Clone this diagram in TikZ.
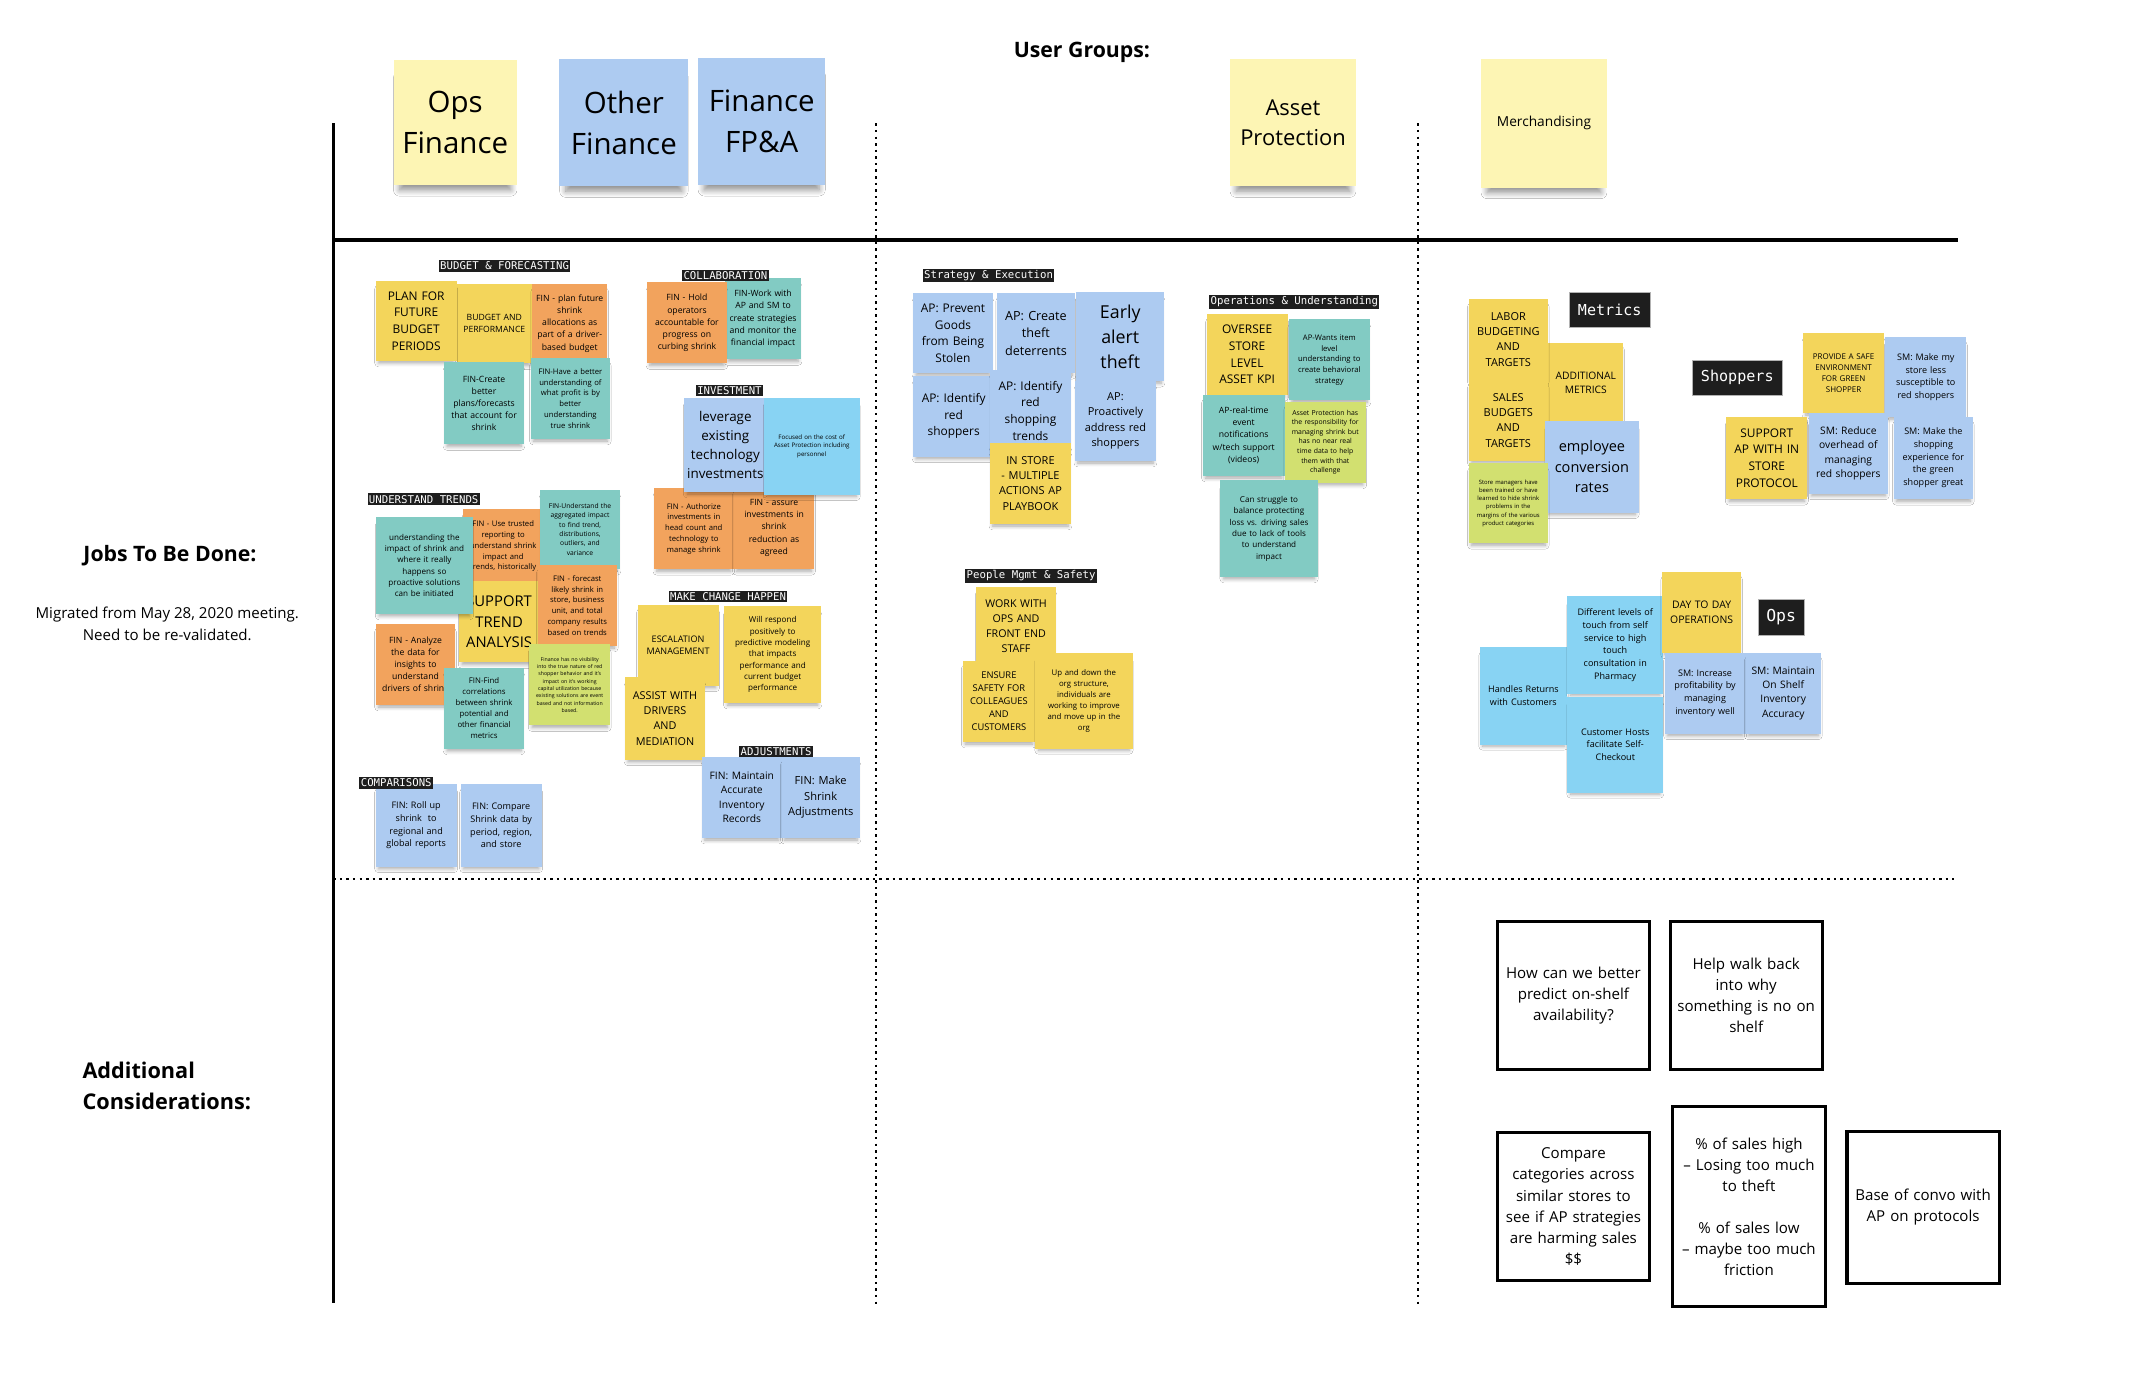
\documentclass[tikz,border=0pt]{standalone}
\usepackage{fontspec}
\setmainfont{Open Sans}
\newfontfamily\tagfont{DejaVu Sans Mono}
\usetikzlibrary{shadows.blur}
\definecolor{noteYellow}{HTML}{F3D55B}
\definecolor{paleYellow}{HTML}{FDF5B4}
\definecolor{noteBlue}{HTML}{ADCBF1}
\definecolor{noteOrange}{HTML}{F2A35D}
\definecolor{noteTeal}{HTML}{82CBC3}
\definecolor{noteCyan}{HTML}{88D3F3}
\definecolor{noteLime}{HTML}{D2E070}
\definecolor{tagBlack}{HTML}{1E1E1E}
\newcommand{\noteSize}[1]{\fontsize{#1}{\dimexpr#1pt*140/100\relax}\selectfont}
\newcommand{\tagSize}[1]{\tagfont\fontsize{#1}{#1}\selectfont}

\begin{document}
\begin{tikzpicture}[x=1pt,y=-1pt,
  noteshadow/.style={blur shadow={shadow xshift=0pt, shadow yshift=-4pt, shadow scale=0.93, shadow opacity=35, shadow blur steps=6, shadow blur radius=3pt}},
  sticky/.style n args={3}{fill=#1, text width=#2pt, minimum height=#3pt, inner sep=0pt, align=center, noteshadow},
  header/.style n args={3}{fill=#1, text width=#2pt, minimum height=#3pt, inner sep=0pt, align=center,
    blur shadow={shadow xshift=0pt, shadow yshift=-9pt, shadow scale=0.9, shadow opacity=45, shadow blur steps=8, shadow blur radius=5pt}},
  tag/.style={fill=tagBlack, text=white, inner xsep=1pt, inner ysep=1.2pt},
  bigtag/.style={fill=tagBlack, text=white, draw=gray!60, line width=0.4pt, inner xsep=6pt, minimum height=26pt},
  question/.style n args={2}{draw=black, line width=2.2pt, fill=white, inner xsep=3pt, inner ysep=0pt,
    text width=#1pt, minimum height=#2pt, align=center, font=\noteSize{11}},
  gridDots/.style={line width=1.8pt, dash pattern=on 1.8pt off 3pt}]
\fill[white] (0,0) rectangle (1568,1011);
\useasboundingbox (0,0) rectangle (1568,1011);

% grid
\draw[line width=2pt] (243,90) -- (243,950);
\draw[line width=3pt] (243,175) -- (1428,175);
\draw[gridDots] (639,90) -- (639,952);
\draw[gridDots] (1034,90) -- (1034,952);
\draw[gridDots] (243,641) -- (1425,641);

% titles
\node[font=\bfseries\fontsize{15.5}{18}\selectfont] (userGroups) at (789,38) {User Groups:};
\node[font=\bfseries\fontsize{15.5}{19}\selectfont] (jobsTitle) at (124,405) {Jobs To Be Done:};
\node[font=\fontsize{11}{16}\selectfont, align=center] (migrated) at (122,455) {Migrated from May 28, 2020 meeting.\\Need to be re-validated.};
\node[font=\bfseries\fontsize{15.8}{23}\selectfont, align=left, anchor=west, inner sep=0pt] (addConsider) at (60,792) {Additional\\Considerations:};

% user groups
\node[header={paleYellow}{90}{91}, font=\noteSize{21.5}] (opsFinance) at (332,89.5) {Ops\\Finance};
\node[header={noteBlue}{94}{93}, font=\noteSize{21.5}] (otherFinance) at (455,89.5) {Other\\Finance};
\node[header={noteBlue}{93}{93}, font=\noteSize{21.5}] (financeFPA) at (555.5,88.5) {Finance\\FP\&A};
\node[header={paleYellow}{92}{93}, font=\noteSize{16}] (assetProt) at (943,89.5) {Asset\\Protection};
\node[header={paleYellow}{92}{94}, font=\noteSize{10}] (merch) at (1126,90) {Merchandising};

% budget & forecasting
\node[sticky={noteYellow}{55}{58}, font=\noteSize{6.3}] (budgetPerf) at (360.5,236) {BUDGET AND\\PERFORMANCE};
\node[sticky={noteYellow}{59}{58}, font=\noteSize{8.7}] (planFuture) at (303.5,234) {PLAN FOR\\FUTURE\\BUDGET\\PERIODS};
\node[sticky={noteOrange}{55}{58}, font=\noteSize{6.3}] (finPlan) at (415.5,236) {FIN - plan future\\shrink\\allocations as\\part of a driver-\\based budget};
\node[sticky={noteTeal}{58}{60}, font=\noteSize{6.3}] (finCreate) at (353,294) {FIN-Create\\better\\plans/forecasts\\that account for\\shrink};
\node[sticky={noteTeal}{58}{59}, font=\noteSize{5.6}] (finProfit) at (416,290.5) {FIN-Have a better\\understanding of\\what profit is by\\better\\understanding\\true shrink};

% collaboration
\node[sticky={noteTeal}{55}{59}, font=\noteSize{6.3}] (finWork) at (556.5,232.5) {FIN-Work with\\AP and SM to\\create strategies\\and monitor the\\financial impact};
\node[sticky={noteOrange}{58}{59}, font=\noteSize{6.3}] (finHold) at (501,235.5) {FIN - Hold\\operators\\accountable for\\progress on\\curbing shrink};

% investment
\node[sticky={noteOrange}{58}{59}, font=\noteSize{5.6}] (finAuthorize) at (506,385.5) {FIN - Authorize\\investments in\\head count and\\technology to\\manage shrink};
\node[sticky={noteOrange}{59}{60}, font=\noteSize{6.3}] (finAssure) at (564.5,385) {FIN - assure\\investments in\\shrink\\reduction as\\agreed};
\node[sticky={noteBlue}{60}{69}, font=\noteSize{9.8}] (leverageTech) at (529,324.5) {leverage\\existing\\technology\\investments};
\node[sticky={noteCyan}{70}{71}, font=\noteSize{4.5}] (focusedCost) at (592,325.5) {Focused on the cost of\\Asset Protection including\\personnel};

% understand trends
\node[sticky={noteOrange}{58}{55}, font=\noteSize{5.6}] (finTrusted) at (367,398.5) {FIN - Use trusted\\reporting to\\understand shrink\\impact and\\trends, historically};
\node[sticky={noteTeal}{58}{58}, font=\noteSize{4.9}] (finAggregated) at (423,386) {FIN-Understand the\\aggregated impact\\to find trend,\\distributions,\\outliers, and\\variance};
\node[sticky={noteYellow}{58}{59}, font=\noteSize{10.8}] (supportTrend) at (364,453.5) {SUPPORT\\TREND\\ANALYSIS};
\node[sticky={noteTeal}{71}{71}, font=\noteSize{5.9}] (understandImpact) at (309.5,412.5) {understanding the\\impact of shrink and\\where it really\\happens so\\proactive solutions\\can be initiated};
\node[sticky={noteOrange}{58}{59}, font=\noteSize{5.6}] (finForecast) at (421,441.5) {FIN - forecast\\likely shrink in\\store, business\\unit, and total\\company results\\based on trends};
\node[sticky={noteOrange}{58}{59}, font=\noteSize{6.3}] (finAnalyze) at (303,484.5) {FIN - Analyze\\the data for\\insights to\\understand\\drivers of shrink};
\node[sticky={noteTeal}{58}{59}, font=\noteSize{5.7}] (finFind) at (353,516.5) {FIN-Find\\correlations\\between shrink\\potential and\\other financial\\metrics};
\node[sticky={noteLime}{59}{59}, font=\noteSize{3.8}] (financeVisibility) at (415.5,499.5) {Finance has no visibility\\into the true nature of red\\shopper behavior and it's\\impact on it's working\\capital utilization because\\existing solutions are event\\based and not information\\based.};

% make change happen
\node[sticky={noteYellow}{59}{59}, font=\noteSize{6.6}] (escalation) at (494.5,470.5) {ESCALATION\\MANAGEMENT};
\node[sticky={noteYellow}{71}{71}, font=\noteSize{5.9}] (willRespond) at (563.5,477.5) {Will respond\\positively to\\predictive modeling\\that impacts\\performance and\\current budget\\performance};
\node[sticky={noteYellow}{58}{60}, font=\noteSize{7.9}] (assistDrivers) at (485,524) {ASSIST WITH\\DRIVERS\\AND\\MEDIATION};

% adjustments
\node[sticky={noteBlue}{58}{59}, font=\noteSize{7.5}] (finMaintainRec) at (541,581.5) {FIN: Maintain\\Accurate\\Inventory\\Records};
\node[sticky={noteBlue}{57}{59}, font=\noteSize{8.1}] (finShrinkAdj) at (598.5,581.5) {FIN: Make\\Shrink\\Adjustments};

% comparisons
\node[sticky={noteBlue}{59}{60}, font=\noteSize{6.6}] (finRollUp) at (303.5,602) {FIN: Roll up\\shrink~ to\\regional and\\global reports};
\node[sticky={noteBlue}{59}{60}, font=\noteSize{6.6}] (finCompare) at (365.5,602) {FIN: Compare\\Shrink data by\\period, region,\\and store};

% strategy & execution
\node[sticky={noteBlue}{58}{58}, font=\noteSize{8.7}] (apPrevent) at (695,243) {AP: Prevent\\Goods\\from Being\\Stolen};
\node[sticky={noteBlue}{57}{58}, font=\noteSize{9.2}] (apDeter) at (755.5,243) {AP: Create\\theft\\deterrents};
\node[sticky={noteBlue}{64}{65}, font=\noteSize{13}] (earlyAlert) at (817,245.5) {Early\\alert\\theft};
\node[sticky={noteBlue}{59}{59}, font=\noteSize{8.7}] (apRedShoppers) at (695.5,303.5) {AP: Identify\\red\\shoppers};
\node[sticky={noteBlue}{59}{58}, font=\noteSize{8}] (apProactive) at (813.5,307) {AP:\\Proactively\\address red\\shoppers};
\node[sticky={noteBlue}{59}{59}, font=\noteSize{8.7}] (apRedTrends) at (751.5,299.5) {AP: Identify\\red\\shopping\\trends};
\node[sticky={noteYellow}{59}{59}, font=\noteSize{8}] (inStore) at (751.5,352.5) {IN STORE\\- MULTIPLE\\ACTIONS AP\\PLAYBOOK};

% operations & understanding
\node[sticky={noteYellow}{59}{59}, font=\noteSize{8.7}] (overseeKpi) at (909.5,258.5) {OVERSEE\\STORE\\LEVEL\\ASSET KPI};
\node[sticky={noteTeal}{59}{59}, font=\noteSize{5.6}] (apItemLevel) at (969.5,262.5) {AP-Wants item\\level\\understanding to\\create behavioral\\strategy};
\node[sticky={noteTeal}{60}{59}, font=\noteSize{6.3}] (apRealTime) at (907,317.5) {AP-real-time\\event\\notifications\\w/tech support\\(videos)};
\node[sticky={noteLime}{59}{59}, font=\noteSize{5}] (apShrinkResp) at (966.5,322.5) {Asset Protection has\\the responsibility for\\managing shrink but\\has no near real\\time data to help\\them with that\\challenge};
\node[sticky={noteTeal}{71}{71}, font=\noteSize{5.9}] (struggleBalance) at (925.5,385.5) {Can struggle to\\balance protecting\\loss vs. driving sales\\due to lack of tools\\to understand\\impact};

% people mgmt & safety
\node[sticky={noteYellow}{58}{58}, font=\noteSize{7.8}] (workOps) at (741,457) {WORK WITH\\OPS AND\\FRONT END\\STAFF};
\node[sticky={noteYellow}{53}{59}, font=\noteSize{6.8}] (ensureSafety) at (728.5,511.5) {ENSURE\\SAFETY FOR\\COLLEAGUES\\AND\\CUSTOMERS};
\node[sticky={noteYellow}{71}{70}, font=\noteSize{5.7}] (upDown) at (790.5,511) {Up and down the\\org structure,\\individuals are\\working to improve\\and move up in the\\org};

% metrics
\node[sticky={noteYellow}{55}{58}, font=\noteSize{7.5}] (addMetrics) at (1156.5,279) {ADDITIONAL\\METRICS};
\node[sticky={noteYellow}{58}{59}, font=\noteSize{8}] (laborBudget) at (1100,247.5) {LABOR\\BUDGETING\\AND\\TARGETS};
\node[sticky={noteYellow}{58}{59}, font=\noteSize{8}] (salesBudget) at (1100,306.5) {SALES\\BUDGETS\\AND\\TARGETS};
\node[sticky={noteBlue}{68}{67}, font=\noteSize{10.6}] (empConversion) at (1161,340.5) {employee\\conversion\\rates};
\node[sticky={noteLime}{58}{58}, font=\noteSize{4.3}] (storeMgrs) at (1100,367) {Store managers have\\been trained or have\\learned to hide shrink\\problems in the\\margins of the various\\product categories};

% shoppers
\node[sticky={noteYellow}{59}{58}, font=\noteSize{5.8}] (safeEnv) at (1344.5,272) {PROVIDE A SAFE\\ENVIRONMENT\\FOR GREEN\\SHOPPER};
\node[sticky={noteBlue}{59}{58}, font=\noteSize{6.6}] (lessSusceptible) at (1404.5,275) {SM: Make my\\store less\\susceptible to\\red shoppers};
\node[sticky={noteYellow}{59}{60}, font=\noteSize{8.7}] (supportProtocol) at (1288.5,334) {SUPPORT\\AP WITH IN\\STORE\\PROTOCOL};
\node[sticky={noteBlue}{58}{59}, font=\noteSize{7.5}] (reduceOverhead) at (1348,330.5) {SM: Reduce\\overhead of\\managing\\red shoppers};
\node[sticky={noteBlue}{58}{60}, font=\noteSize{6.6}] (greenShopper) at (1410,334) {SM: Make the\\shopping\\experience for\\the green\\shopper great};

% ops
\node[sticky={noteCyan}{64}{71}, font=\noteSize{6.6}] (handlesReturns) at (1111,507.5) {Handles Returns\\with Customers};
\node[sticky={noteCyan}{70}{71}, font=\noteSize{6.6}] (touchLevels) at (1178,470.5) {Different levels of\\touch from self\\service to high\\touch\\consultation in\\Pharmacy};
\node[sticky={noteCyan}{70}{70}, font=\noteSize{6.6}] (selfCheckout) at (1178,543) {Customer Hosts\\facilitate Self-\\Checkout};
\node[sticky={noteYellow}{58}{59}, font=\noteSize{7.6}] (dayToDay) at (1241,446.5) {DAY TO DAY\\OPERATIONS};
\node[sticky={noteBlue}{59}{59}, font=\noteSize{6.6}] (profitInventory) at (1243.5,505.5) {SM: Increase\\profitability by\\managing\\inventory well};
\node[sticky={noteBlue}{55}{59}, font=\noteSize{7.5}] (shelfAccuracy) at (1300.5,505.5) {SM: Maintain\\On Shelf\\Inventory\\Accuracy};

% group tags, on top of the notes
\node[tag, font=\tagSize{7.8}] (tagBudget) at (368,194) {BUDGET \& FORECASTING};
\node[tag, font=\tagSize{7.8}] (tagCollab) at (529,201) {COLLABORATION};
\node[tag, font=\tagSize{7.8}] (tagInvest) at (532,285) {INVESTMENT};
\node[tag, font=\tagSize{7.8}] (tagTrends) at (309,364) {UNDERSTAND TRENDS};
\node[tag, font=\tagSize{7.8}] (tagChange) at (531,435) {MAKE CHANGE HAPPEN};
\node[tag, font=\tagSize{7.8}] (tagAdjust) at (566,548) {ADJUSTMENTS};
\node[tag, font=\tagSize{7.8}] (tagCompare) at (289,571) {COMPARISONS};
\node[tag, font=\tagSize{7.8}] (tagStrategy) at (721,201) {Strategy \& Execution};
\node[tag, font=\tagSize{7.8}] (tagOperations) at (944,220) {Operations \& Understanding};
\node[tag, font=\tagSize{7.8}] (tagPeople) at (752,420) {People Mgmt \& Safety};
\node[bigtag, font=\tagSize{11}] (tagMetrics) at (1174,226) {Metrics};
\node[bigtag, font=\tagSize{11}] (tagShoppers) at (1267,275.5) {Shoppers};
\node[bigtag, font=\tagSize{12}] (tagOps) at (1299,450) {Ops};

% additional considerations
\node[question={105}{108}] (predictShelf) at (1147.5,726) {How can we better\\predict on-shelf\\availability?};
\node[question={105}{108}] (walkBack) at (1273.5,726) {Help walk back\\into why\\something is no on\\shelf};
\node[question={105}{108}] (compareCat) at (1147.5,880) {Compare\\categories across\\similar stores to\\see if AP strategies\\are harming sales\\\$\$};
\node[question={105}{146}] (salesPct) at (1275.5,880) {\% of sales high\\– Losing too much\\to theft\\[15pt]\% of sales low\\– maybe too much\\friction};
\node[question={105}{111}] (baseConvo) at (1402.5,880.5) {Base of convo with\\AP on protocols};
\end{tikzpicture}
\end{document}
